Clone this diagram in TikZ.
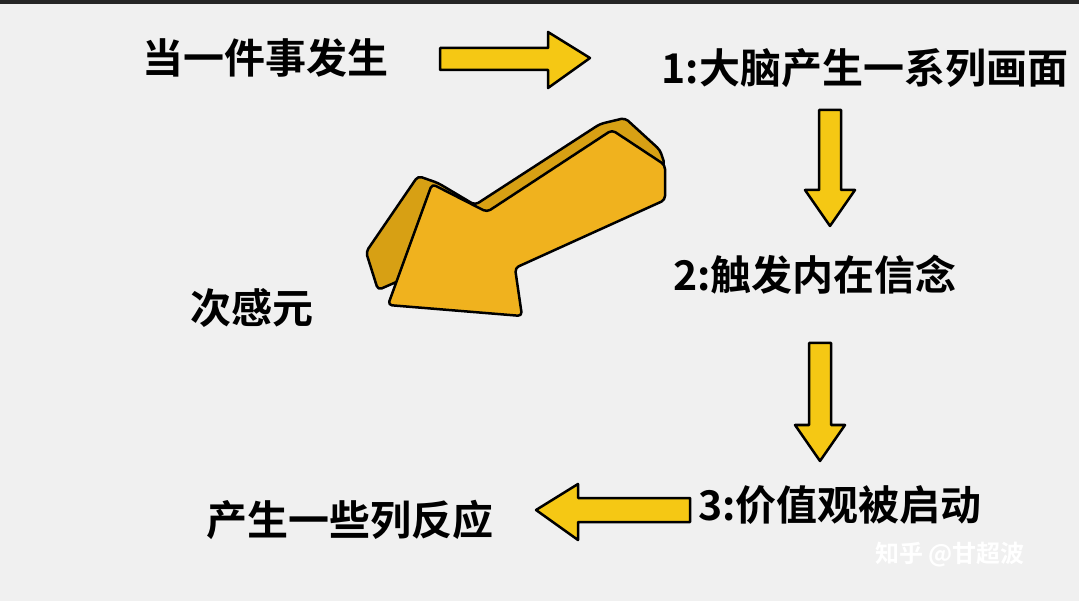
\documentclass[tikz,border=0pt]{standalone}
\usepackage{fontspec}
\newfontfamily\cjk{Noto Sans CJK SC Bold}
\begin{document}
\begin{tikzpicture}[x=1pt,y=-1pt,
  lbl/.style={font=\cjk\fontsize{41}{43}\selectfont, text=black, inner sep=0},
  yarrow/.style={fill={rgb,255:red,245;green,200;blue,20}, draw=black, line width=2.5pt, line join=round}]
\useasboundingbox (0,0) rectangle (1079,601);
\fill[gray!12] (0,0) rectangle (1079,601);
\fill[black!85] (0,0) rectangle (1079,4);
% labels
\node[lbl] (a) at (265,58) {当一件事发生};
\node[lbl] (b) at (865,68) {1:大脑产生一系列画面};
\node[lbl] (c) at (815,275) {2:触发内在信念};
\node[lbl] (d) at (840,505) {3:价值观被启动};
\node[lbl] (e) at (350,520) {产生一些列反应};
\node[lbl] (f) at (252,308) {次感元};
\node[font=\cjk\fontsize{24}{26}\selectfont, text=white, inner sep=0] (w) at (950,555) {知乎 @甘超波};
% right arrow
\draw[yarrow] (440,48) -- (548,48) -- (548,32) -- (590,58) -- (548,88) -- (548,70) -- (440,70) -- cycle;
% down arrow 1
\draw[yarrow] (819,110) -- (841,110) -- (841,190) -- (855,190) -- (830,226) -- (805,190) -- (819,190) -- cycle;
% down arrow 2
\draw[yarrow] (809,343) -- (831,343) -- (831,425) -- (845,425) -- (820,461) -- (795,425) -- (809,425) -- cycle;
% left arrow
\draw[yarrow] (690,498) -- (578,498) -- (578,484) -- (536,510) -- (578,540) -- (578,522) -- (690,522) -- cycle;
% big 3d arrow: side
\draw[fill={rgb,255:red,215;green,160;blue,20}, draw=black, line width=2.5pt, line join=round, rounded corners=4pt]
  (378,290) -- (366,252) -- (418,176) -- (438,183) -- (475,205) -- (600,124) -- (625,118) -- (660,150) -- (665,165) -- cycle;
\draw[yarrow, fill={rgb,255:red,240;green,178;blue,30}, rounded corners=4pt] (388,305) -- (432,184) -- (487,212) -- (612,130) -- (665,165) -- (665,200) -- (515,268) -- (522,316) -- cycle;
\end{tikzpicture}
\end{document}
